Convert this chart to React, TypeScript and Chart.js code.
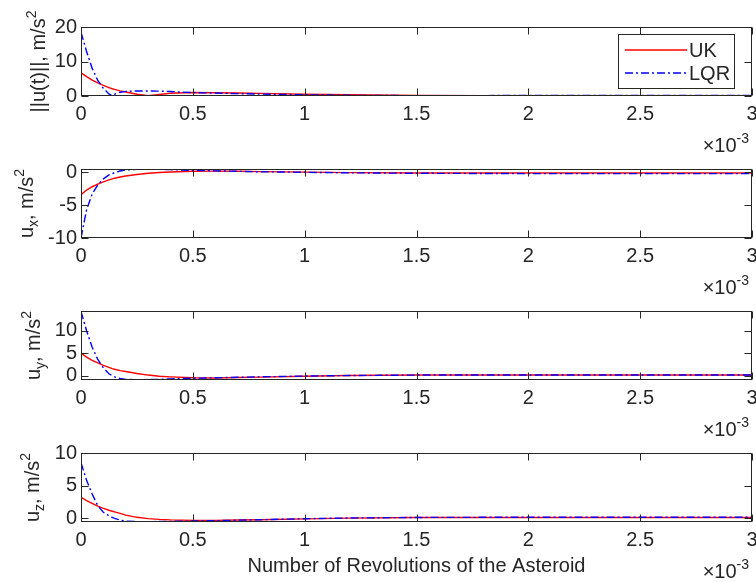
import React, { useEffect, useRef } from 'react';
import { Chart, registerables } from 'chart.js';

Chart.register(...registerables);

// ---------- data (x in units of 1e-3 revolutions) ----------
const revs = [0, 0.025, 0.05, 0.075, 0.1, 0.125, 0.14, 0.15, 0.175, 0.2, 0.25, 0.3, 0.35, 0.4, 0.5, 0.6, 0.7, 0.8, 1.0, 1.2, 1.5, 1.8, 2.0, 2.5, 3.0];

const normUK = [6.7, 5.6, 4.6, 3.8, 3.07, 2.45, 2.1, 1.9, 1.5, 1.15, 0.5, 0.1, 0.45, 0.8, 1.0, 0.95, 0.85, 0.75, 0.5, 0.35, 0.15, 0.12, 0.12, 0.12, 0.12];
const normLQR = [18.5, 12.9, 8.0, 4.5, 2.2, 0.6, 0.05, 0.5, 1.1, 1.35, 1.45, 1.45, 1.4, 1.3, 1.0, 0.85, 0.7, 0.55, 0.35, 0.2, 0.1, 0.12, 0.14, 0.15, 0.15];

const uxUK = [-3.4, -2.7, -2.2, -1.8, -1.45, -1.15, -1.0, -0.9, -0.72, -0.57, -0.33, -0.15, -0.03, 0.05, 0.15, 0.17, 0.15, 0.1, 0.02, -0.05, -0.1, -0.1, -0.1, -0.1, -0.1];
const uxLQR = [-10, -5.7, -3.3, -1.9, -1.0, -0.4, -0.2, -0.05, 0.2, 0.35, 0.45, 0.47, 0.45, 0.4, 0.3, 0.22, 0.15, 0.08, 0, -0.08, -0.15, -0.18, -0.2, -0.2, -0.2];

const uyUK = [5.0, 4.1, 3.4, 2.8, 2.25, 1.8, 1.55, 1.4, 1.1, 0.9, 0.45, 0.1, -0.15, -0.3, -0.5, -0.55, -0.45, -0.35, -0.15, 0, 0.1, 0.12, 0.12, 0.1, 0.1];
const uyLQR = [14.3, 10, 6.3, 3.6, 1.7, 0.4, -0.05, -0.3, -0.65, -0.85, -0.95, -0.9, -0.85, -0.75, -0.6, -0.5, -0.4, -0.3, -0.12, 0, 0.1, 0.12, 0.12, 0.12, 0.12];

const uzUK = [3.2, 2.7, 2.25, 1.85, 1.5, 1.2, 1.05, 0.95, 0.72, 0.45, 0.12, -0.08, -0.2, -0.28, -0.35, -0.35, -0.3, -0.25, -0.12, 0, 0.08, 0.1, 0.1, 0.1, 0.1];
const uzLQR = [8.5, 5.8, 3.7, 1.9, 0.9, 0.35, 0.1, -0.05, -0.3, -0.45, -0.55, -0.55, -0.52, -0.5, -0.45, -0.4, -0.32, -0.25, -0.1, 0.02, 0.1, 0.12, 0.12, 0.12, 0.12];

const xTicks = [0, 0.5, 1, 1.5, 2, 2.5, 3];
const xRange = [0, 3];

const normTicks = [0, 10, 20];
const uxTicks = [-10, -5, 0];
const uyTicks = [0, 5, 10];
const uzTicks = [0, 5, 10];

const normRange = [0, 20];
const uxRange = [-10, 0.5];
const uyRange = [-1, 14.4];
const uzRange = [-0.6, 10];

const seriesNames = ['UK', 'LQR'];
const xTitle = 'Number of Revolutions of the Asteroid';
const xExponent = '-3';

// ---------- styling / layout ----------
const W = 756;
const PLOT_LEFT = 81;
const PLOT_RIGHT = 752;
const PLOT_H = 69;
const PAD_TOP = 25;
const X_AXIS_H = 30;
const PAD_BOTTOM = 50;
const FONT_FAMILY = '"Liberation Sans", Arial, Helvetica, sans-serif';
const AXIS_COLOR = '#262626';
const UK_COLOR = '#ff0000';
const LQR_COLOR = '#0000ff';
const LQR_DASH = [8, 3, 2, 3];
const LINE_W = 1.4;

type Seg = { t: string; k?: 'sub' | 'sup' };

interface PanelSpec {
  top: number;
  uk: number[];
  lqr: number[];
  range: number[];
  ticks: number[];
  yTitle: Seg[];
  yTitleX: number;
  legend?: boolean;
  xLabel?: boolean;
}

const panels: PanelSpec[] = [
  { top: 27, uk: normUK, lqr: normLQR, range: normRange, ticks: normTicks, yTitle: [{ t: '||u(t)||, m/s' }, { t: '2', k: 'sup' }], yTitleX: 45, legend: true },
  { top: 169, uk: uxUK, lqr: uxLQR, range: uxRange, ticks: uxTicks, yTitle: [{ t: 'u' }, { t: 'x', k: 'sub' }, { t: ', m/s' }, { t: '2', k: 'sup' }], yTitleX: 33 },
  { top: 311, uk: uyUK, lqr: uyLQR, range: uyRange, ticks: uyTicks, yTitle: [{ t: 'u' }, { t: 'y', k: 'sub' }, { t: ', m/s' }, { t: '2', k: 'sup' }], yTitleX: 40 },
  { top: 453, uk: uzUK, lqr: uzLQR, range: uzRange, ticks: uzTicks, yTitle: [{ t: 'u' }, { t: 'z', k: 'sub' }, { t: ', m/s' }, { t: '2', k: 'sup' }], yTitleX: 39, xLabel: true },
];

const font = (size: number) => `${size}px ${FONT_FAMILY}`;
const MAIN = 20;
const SMALL = 14;

function segFont(s: Seg) {
  return font(s.k ? SMALL : MAIN);
}
function segDy(s: Seg) {
  return s.k === 'sup' ? -9 : s.k === 'sub' ? 5 : 0;
}

function drawRich(ctx: CanvasRenderingContext2D, segs: Seg[], x: number, y: number, align: 'center' | 'right' | 'left', rotate: boolean) {
  ctx.save();
  ctx.translate(x, y);
  if (rotate) ctx.rotate(-Math.PI / 2);
  let total = 0;
  const widths = segs.map((s) => {
    ctx.font = segFont(s);
    const w = ctx.measureText(s.t).width;
    total += w;
    return w;
  });
  let cx = align === 'center' ? -total / 2 : align === 'right' ? -total : 0;
  ctx.textBaseline = 'alphabetic';
  ctx.textAlign = 'left';
  ctx.fillStyle = AXIS_COLOR;
  segs.forEach((s, i) => {
    ctx.font = segFont(s);
    ctx.fillText(s.t, cx, segDy(s));
    cx += widths[i];
  });
  ctx.restore();
}

function overlay(p: PanelSpec) {
  return {
    id: 'overlay',
    afterDraw(chart: any) {
      const { ctx, chartArea: a, scales } = chart;
      ctx.save();
      const L = Math.round(a.left) + 0.5;
      const R = Math.round(a.right) - 0.5;
      const T = Math.round(a.top) + 0.5;
      const B = Math.round(a.bottom) - 0.5;
      ctx.strokeStyle = AXIS_COLOR;
      ctx.lineWidth = 1;
      ctx.setLineDash([]);
      ctx.strokeRect(L, T, R - L, B - T);
      const TL = 7;
      ctx.beginPath();
      xTicks.forEach((v) => {
        const px = Math.round(scales.x.getPixelForValue(v)) + 0.5;
        ctx.moveTo(px, B); ctx.lineTo(px, B - TL);
        ctx.moveTo(px, T); ctx.lineTo(px, T + TL);
      });
      p.ticks.forEach((v) => {
        const py = Math.round(scales.y.getPixelForValue(v)) + 0.5;
        ctx.moveTo(L, py); ctx.lineTo(L + TL, py);
        ctx.moveTo(R, py); ctx.lineTo(R - TL, py);
      });
      ctx.stroke();

      // y title
      drawRich(ctx, p.yTitle, p.yTitleX, (a.top + a.bottom) / 2, 'center', true);

      // x10^-3
      drawRich(ctx, [{ t: '\u00d710' }, { t: xExponent, k: 'sup' }], a.right - 3, a.bottom + 56, 'right', false);

      if (p.xLabel) {
        drawRich(ctx, [{ t: xTitle }], (a.left + a.right) / 2, a.bottom + 50, 'center', false);
      }

      if (p.legend) {
        const lx = a.right - 134;
        const ly = a.top + 7;
        const lw = 116;
        const lh = 54;
        ctx.fillStyle = '#ffffff';
        ctx.fillRect(lx, ly, lw, lh);
        ctx.strokeStyle = AXIS_COLOR;
        ctx.lineWidth = 1;
        ctx.strokeRect(Math.round(lx) + 0.5, Math.round(ly) + 0.5, lw, lh);
        const rows = [
          { name: seriesNames[0], color: UK_COLOR, dash: [] as number[], y: ly + 16 },
          { name: seriesNames[1], color: LQR_COLOR, dash: LQR_DASH, y: ly + 39 },
        ];
        rows.forEach((r) => {
          ctx.beginPath();
          ctx.strokeStyle = r.color;
          ctx.lineWidth = LINE_W;
          ctx.setLineDash(r.dash);
          ctx.moveTo(lx + 7, r.y);
          ctx.lineTo(lx + 69, r.y);
          ctx.stroke();
          ctx.setLineDash([]);
          ctx.fillStyle = AXIS_COLOR;
          ctx.font = font(MAIN);
          ctx.textAlign = 'left';
          ctx.textBaseline = 'middle';
          ctx.fillText(r.name, lx + 71, r.y + 1);
        });
      }
      ctx.restore();
    },
  };
}

function makeConfig(p: PanelSpec): any {
  const toPts = (arr: number[]) => revs.map((x, i) => ({ x, y: arr[i] }));
  return {
    type: 'line',
    data: {
      datasets: [
        { label: seriesNames[0], data: toPts(p.uk), borderColor: UK_COLOR, borderWidth: LINE_W, pointRadius: 0, fill: false, tension: 0, order: 2 },
        { label: seriesNames[1], data: toPts(p.lqr), borderColor: LQR_COLOR, borderWidth: LINE_W, borderDash: LQR_DASH, pointRadius: 0, fill: false, tension: 0, order: 1 },
      ],
    },
    options: {
      responsive: false,
      animation: false,
      devicePixelRatio: 1,
      events: [],
      layout: { padding: { top: PAD_TOP, right: W - PLOT_RIGHT, bottom: PAD_BOTTOM, left: 0 } },
      plugins: { legend: { display: false }, tooltip: { enabled: false }, title: { display: false } },
      scales: {
        x: {
          type: 'linear',
          min: xRange[0],
          max: xRange[1],
          grid: { display: false, drawTicks: false },
          border: { display: false },
          ticks: { font: { family: FONT_FAMILY, size: MAIN }, color: AXIS_COLOR, padding: 6, maxRotation: 0, autoSkip: false, callback: (v: number) => String(v) },
          afterBuildTicks: (s: any) => { s.ticks = xTicks.map((value) => ({ value })); },
          afterFit: (s: any) => { s.height = X_AXIS_H; s.paddingLeft = 0; s.paddingRight = 0; },
        },
        y: {
          type: 'linear',
          min: p.range[0],
          max: p.range[1],
          grid: { display: false, drawTicks: false },
          border: { display: false },
          ticks: { font: { family: FONT_FAMILY, size: MAIN }, color: AXIS_COLOR, padding: 4, autoSkip: false, callback: (v: number) => String(v) },
          afterBuildTicks: (s: any) => { s.ticks = p.ticks.map((value) => ({ value })); },
          afterFit: (s: any) => { s.width = PLOT_LEFT; s.paddingTop = 0; s.paddingBottom = 0; },
        },
      },
    },
    plugins: [overlay(p)],
  };
}

export default function App() {
  const refs = useRef<(HTMLCanvasElement | null)[]>([]);
  useEffect(() => {
    const charts = panels.map((p, i) => new Chart(refs.current[i] as HTMLCanvasElement, makeConfig(p)));
    return () => charts.forEach((c) => c.destroy());
  }, []);
  const H = PAD_TOP + PLOT_H + X_AXIS_H + PAD_BOTTOM;
  return (
    <div style={{ position: 'absolute', left: 0, top: 0, width: W, height: 582, background: '#ffffff', overflow: 'hidden' }}>
      {panels.map((p, i) => (
        <canvas
          key={i}
          ref={(el) => { refs.current[i] = el; }}
          width={W}
          height={H}
          style={{ position: 'absolute', left: 0, top: p.top - PAD_TOP, width: W, height: H }}
        />
      ))}
    </div>
  );
}
